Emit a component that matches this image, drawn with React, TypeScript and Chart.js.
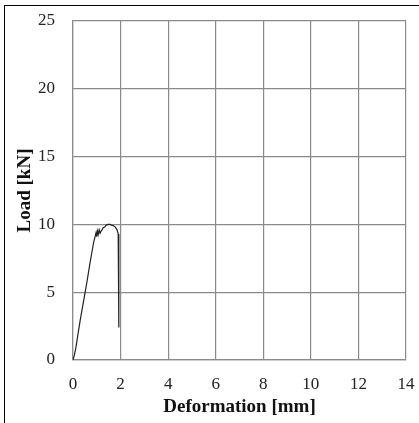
import React, { useEffect, useRef } from "react";
import { Chart, registerables } from "chart.js";

Chart.register(...registerables);

const deformation = [0, 0.05, 0.12, 0.2, 0.3, 0.4, 0.5, 0.6, 0.7, 0.8, 0.87, 0.93, 0.97, 1.0, 1.03, 1.06, 1.1, 1.14, 1.18, 1.22, 1.27, 1.33, 1.4, 1.47, 1.55, 1.62, 1.7, 1.78, 1.85, 1.9, 1.92, 1.93, 1.93];
const load = [0, 0.3, 0.9, 1.8, 2.9, 3.9, 4.9, 5.9, 7.0, 8.0, 8.7, 9.1, 9.4, 9.1, 9.5, 9.25, 9.6, 9.35, 9.5, 9.6, 9.75, 9.8, 9.95, 10.0, 10.0, 9.95, 9.9, 9.8, 9.6, 9.3, 8.8, 5.0, 2.4];

const xTitle = "Deformation [mm]";
const yTitle = "Load [kN]";

export default function App() {
  const ref = useRef<HTMLCanvasElement>(null);
  useEffect(() => {
    if (!ref.current) return;
    const gridColor = "#8a8a8a";
    const serif = "'Liberation Serif', 'Times New Roman', serif";
    const zeroPad = (s: any) => {
      s.paddingTop = 0;
      s.paddingBottom = 0;
      s.paddingLeft = 0;
      s.paddingRight = 0;
    };
    const chart = new Chart(ref.current, {
      type: "scatter",
      data: {
        datasets: [
          {
            data: deformation.map((x, i) => ({ x, y: load[i] })),
            showLine: true,
            borderColor: "#222",
            borderWidth: 1.2,
            pointRadius: 0,
            tension: 0,
          },
        ],
      },
      options: {
        animation: false,
        responsive: false,
        maintainAspectRatio: false,
        layout: { padding: { left: 0, top: 21, right: 13, bottom: 0 } },
        plugins: { legend: { display: false }, tooltip: { enabled: false } },
        scales: {
          x: {
            type: "linear",
            min: 0,
            max: 14,
            afterFit: (s: any) => { s.height = 63; zeroPad(s); },
            ticks: { stepSize: 2, color: "#222", padding: 14, font: { family: serif, size: 17 }, maxRotation: 0 },
            grid: { color: gridColor, lineWidth: 1.2, drawTicks: false },
            border: { color: gridColor, width: 1.2 },
            title: { display: true, text: xTitle, color: "#111", font: { family: serif, size: 19, weight: "bold" }, padding: { top: 0, bottom: 5 } },
          },
          y: {
            type: "linear",
            min: 0,
            max: 25,
            afterFit: (s: any) => { s.width = 73; zeroPad(s); },
            ticks: { stepSize: 5, color: "#222", padding: 18, font: { family: serif, size: 17 } },
            grid: { color: gridColor, lineWidth: 1.2, drawTicks: false },
            border: { color: gridColor, width: 1.2 },
            title: { display: true, text: yTitle, color: "#111", font: { family: serif, size: 19, weight: "bold" }, padding: { top: 14, bottom: 0 } },
          },
        },
      },
    });
    return () => chart.destroy();
  }, []);
  return (
    <div style={{ position: "fixed", left: 0, top: 0, width: 419, height: 423, background: "#fff", overflow: "hidden" }}>
      <canvas ref={ref} width={419} height={423} style={{ position: "absolute", left: 0, top: 0 }} />
      <div style={{ position: "absolute", left: 4, top: 5, width: 600, height: 600, borderTop: "1.5px solid #000", borderLeft: "1.5px solid #000", boxSizing: "border-box", pointerEvents: "none" }} />
    </div>
  );
}
